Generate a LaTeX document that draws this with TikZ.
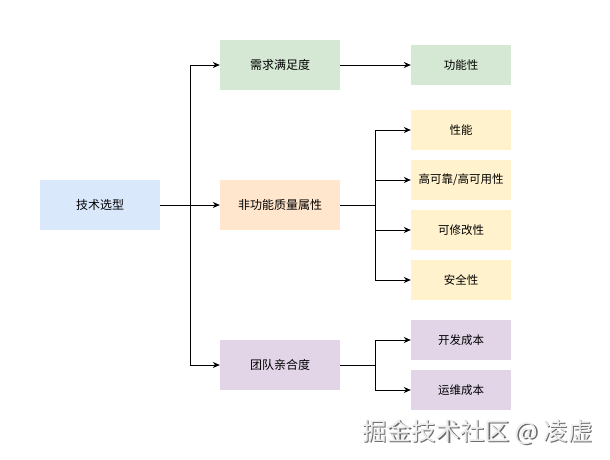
\documentclass[tikz,border=0pt]{standalone}
\usepackage{fontspec}
\setmainfont{Noto Sans CJK SC}
\newfontfamily\cjk{Noto Sans CJK SC}
\usetikzlibrary{arrows.meta}
\definecolor{cblue}{HTML}{DAE8FC}
\definecolor{cgreen}{HTML}{D5E8D4}
\definecolor{corange}{HTML}{FFE6CC}
\definecolor{cyellow}{HTML}{FFF2CC}
\definecolor{cpurple}{HTML}{E1D5E7}
\tikzset{
  box/.style={minimum width=120pt,minimum height=50pt,inner sep=0pt,font=\cjk\fontsize{12pt}{14pt}\selectfont},
  leaf/.style={minimum width=100pt,minimum height=40pt,inner sep=0pt,font=\cjk\fontsize{11.5pt}{13pt}\selectfont},
  conn/.style={line width=0.9pt,-{Stealth[length=7pt,width=6pt]}},
  plain/.style={line width=0.9pt},
  wmark/.style={font=\cjk\fontsize{24.5pt}{26pt}\selectfont,anchor=center,inner sep=0pt}
}
\begin{document}
\begin{tikzpicture}[x=1pt,y=-1pt]
\useasboundingbox (0,0) rectangle (610,460);
\node[box,fill=cblue] (root) at (100,205) {技术选型};
\node[box,fill=cgreen] (req) at (280,65) {需求满足度};
\node[box,fill=corange] (nf) at (280,205) {非功能质量属性};
\node[box,fill=cpurple] (team) at (280,365) {团队亲合度};
\node[leaf,fill=cgreen] (func) at (461,65) {功能性};
\node[leaf,fill=cyellow] (perf) at (461,130) {性能};
\node[leaf,fill=cyellow] (rel) at (461,180) {高可靠/高可用性};
\node[leaf,fill=cyellow] (mod) at (461,230) {可修改性};
\node[leaf,fill=cyellow] (sec) at (461,280) {安全性};
\node[leaf,fill=cpurple] (dev) at (461,340) {开发成本};
\node[leaf,fill=cpurple] (ops) at (461,390) {运维成本};
\coordinate (j1) at (190,205);
\coordinate (j2) at (375,205);
\coordinate (j3) at (375,365);
\draw[conn] (root) -- (nf);
\draw[conn] (j1) |- (req);
\draw[conn] (j1) |- (team);
\draw[conn] (req) -- (func);
\draw[plain] (nf) -- (j2);
\draw[conn] (j2) |- (perf);
\draw[conn] (j2) |- (rel);
\draw[conn] (j2) |- (mod);
\draw[conn] (j2) |- (sec);
\draw[plain] (team) -- (j3);
\draw[conn] (j3) |- (dev);
\draw[conn] (j3) |- (ops);
\node[wmark,text=gray!85!black] (wmshadow) at (478.8,433.3) {掘金技术社区 @ 凌虚};
\node[wmark,text=gray!15] (wm) at (477.5,432) {掘金技术社区 @ 凌虚};
\end{tikzpicture}
\end{document}
